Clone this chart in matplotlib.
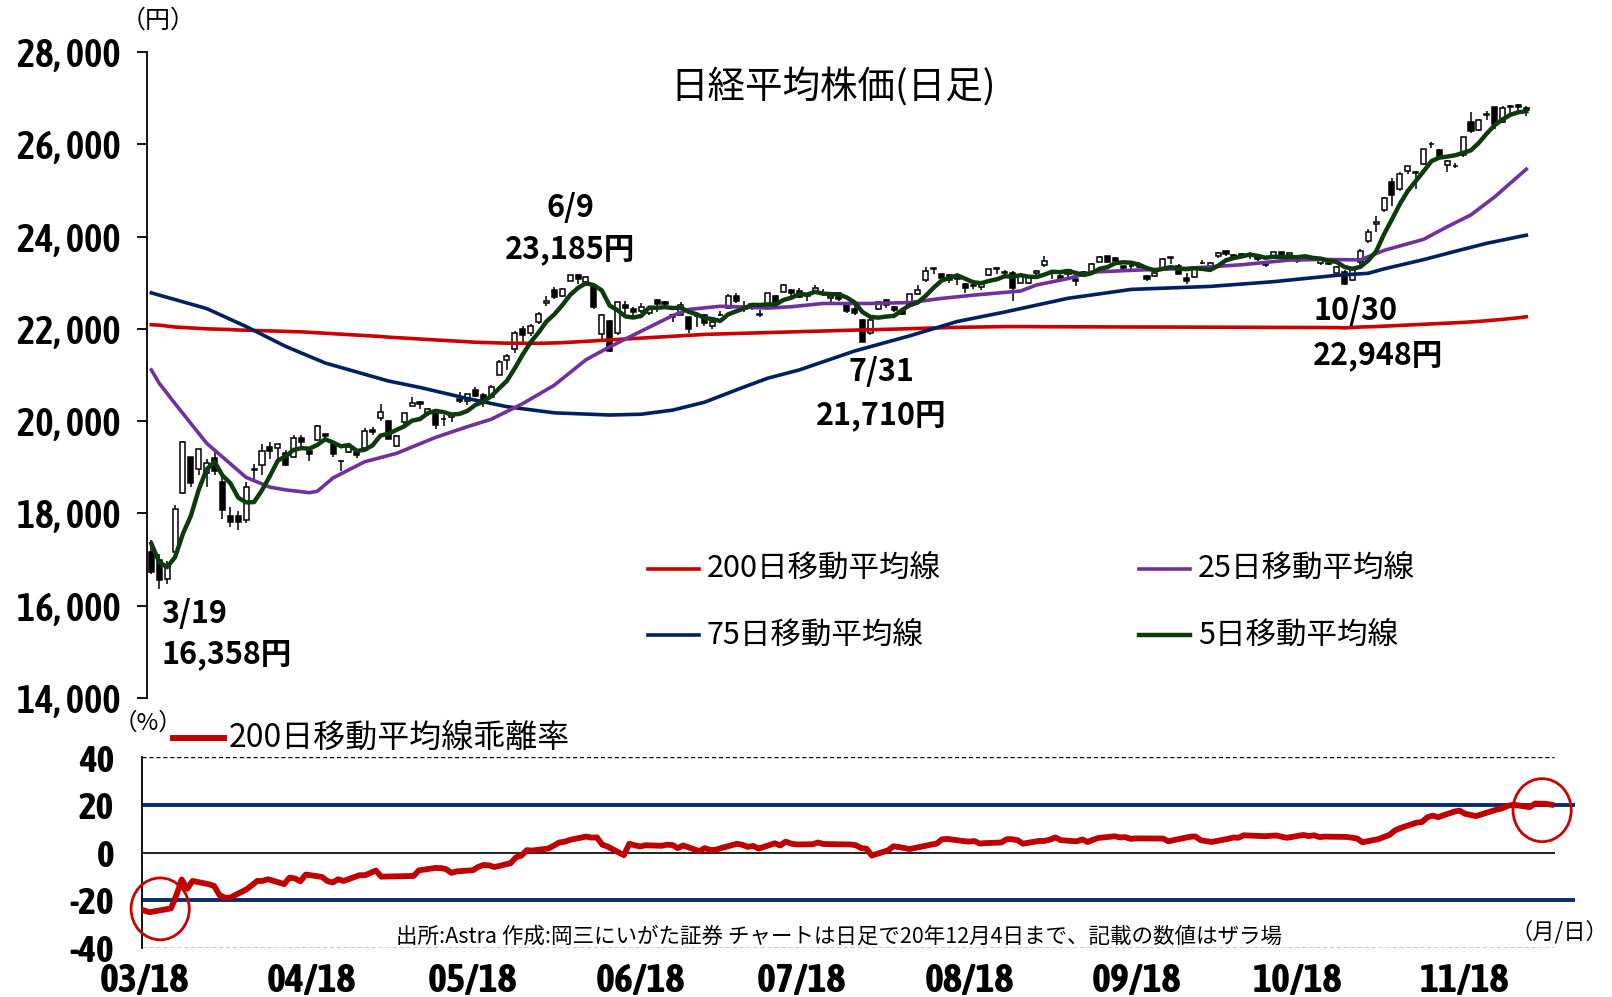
import numpy as np
import pandas as pd
import matplotlib
matplotlib.use('Agg')
import matplotlib.pyplot as plt
import matplotlib.dates as mdates
from matplotlib.patches import Ellipse
from matplotlib.lines import Line2D

JP = ['Noto Sans CJK JP', 'DejaVu Sans']
COND = ['Asap Condensed', 'Archivo Narrow', 'DejaVu Sans']
plt.rcParams['font.family'] = JP

# ---------------- data ----------------
trade_days = [
    '03-18', '03-19', '03-23', '03-24', '03-25', '03-26', '03-27', '03-30', '03-31',
    '04-01', '04-02', '04-03', '04-06', '04-07', '04-08', '04-09', '04-10', '04-13', '04-14', '04-15',
    '04-16', '04-17', '04-20', '04-21', '04-22', '04-23', '04-24', '04-27', '04-28', '04-30',
    '05-01', '05-07', '05-08', '05-11', '05-12', '05-13', '05-14', '05-15', '05-18', '05-19',
    '05-20', '05-21', '05-22', '05-25', '05-26', '05-27', '05-28', '05-29',
    '06-01', '06-02', '06-03', '06-04', '06-05', '06-08', '06-09', '06-10', '06-11', '06-12',
    '06-15', '06-16', '06-17', '06-18', '06-19', '06-22', '06-23', '06-24', '06-25', '06-26', '06-29', '06-30',
    '07-01', '07-02', '07-03', '07-06', '07-07', '07-08', '07-09', '07-10', '07-13', '07-14',
    '07-15', '07-16', '07-17', '07-20', '07-21', '07-22', '07-27', '07-28', '07-29', '07-30', '07-31',
    '08-03', '08-04', '08-05', '08-06', '08-07', '08-11', '08-12', '08-13', '08-14', '08-17',
    '08-18', '08-19', '08-20', '08-21', '08-24', '08-25', '08-26', '08-27', '08-28', '08-31',
    '09-01', '09-02', '09-03', '09-04', '09-07', '09-08', '09-09', '09-10', '09-11', '09-14',
    '09-15', '09-16', '09-17', '09-18', '09-23', '09-24', '09-25', '09-28', '09-29', '09-30',
    '10-02', '10-05', '10-06', '10-07', '10-08', '10-09', '10-12', '10-13', '10-14', '10-15',
    '10-16', '10-19', '10-20', '10-21', '10-22', '10-23', '10-26', '10-27', '10-28', '10-29', '10-30',
    '11-02', '11-04', '11-05', '11-06', '11-09', '11-10', '11-11', '11-12', '11-13', '11-16',
    '11-17', '11-18', '11-19', '11-20', '11-24', '11-25', '11-26', '11-27', '11-30',
    '12-01', '12-02', '12-03', '12-04',
]

opens = [
    17154, 16995, 16570, 17172, 18446, 19217, 18960, 18884, 19200,
    18686, 17934, 17951, 17857, 18953, 19046, 19444, 19410, 19320, 19218, 19640,
    19361, 19599, 19719, 19498, 19140, 19335, 19342, 19419, 19802, 20063,
    20000, 19468, 19973, 20333, 20412, 20174, 20193, 20036, 20085, 20473,
    20443, 20670, 20565, 20515, 21007, 21316, 21558, 21995,
    21910, 22146, 22560, 22843, 22719, 23041, 23163, 23016, 22910, 21888,
    22162, 21915, 22510, 22423, 22388, 22340, 22626, 22581, 22300, 22291, 22253, 22275,
    22294, 22071, 22309, 22456, 22716, 22495, 22520, 22316, 22460, 22713,
    22796, 22838, 22824, 22730, 22822, 22767, 22659, 22777, 22540, 22428, 22201,
    21917, 22422, 22630, 22473, 22381, 22486, 22752, 23050, 23311, 23186,
    23172, 23077, 22973, 22952, 22911, 23158, 23323, 23236, 23218, 22999,
    23000, 23214, 23390, 23208, 23138, 23184, 23071, 23166, 23237, 23448,
    23569, 23530, 23354, 23367, 23378, 23147, 23155, 23326, 23564, 23364,
    23096, 23127, 23428, 23363, 23583, 23690, 23591, 23624, 23599, 23561,
    23392, 23542, 23659, 23593, 23517, 23497, 23509, 23417, 23414, 23212, 23240,
    23057, 23456, 23906, 24266, 24575, 25185, 25038, 25423, 25397, 25563,
    26014, 25866, 25560, 25532, 25757, 26478, 26300, 26651, 26800,
    26479, 26822, 26853, 26777,
]
highs = [
    17426, 17118, 16960, 18180, 19564, 19225, 19389, 19181, 19336,
    18784, 18138, 18059, 18672, 19081, 19500, 19538, 19511, 19369, 19706, 19706,
    19394, 19922, 19731, 19507, 19160, 19507, 19353, 19841, 19873, 20365,
    20029, 19700, 20187, 20534, 20437, 20286, 20226, 20129, 20173, 20637,
    20595, 20741, 20600, 20791, 21328, 21456, 21955, 22060,
    22100, 22355, 22702, 22907, 22890, 23178, 23185, 23148, 22935, 22317,
    22201, 22582, 22612, 22484, 22571, 22454, 22650, 22610, 22308, 22586, 22263, 22345,
    22324, 22184, 22381, 22746, 22773, 22597, 22563, 22402, 22784, 22727,
    22970, 22864, 22878, 22758, 22950, 22853, 22738, 22802, 22550, 22546, 22215,
    22236, 22579, 22638, 22487, 22382, 22760, 22943, 23338, 23315, 23216,
    23183, 23133, 22990, 23002, 23007, 23306, 23338, 23276, 23254, 23183,
    23150, 23275, 23580, 23243, 23200, 23296, 23087, 23245, 23422, 23583,
    23581, 23553, 23359, 23394, 23439, 23178, 23239, 23540, 23564, 23415,
    23211, 23330, 23488, 23448, 23662, 23713, 23622, 23654, 23666, 23568,
    23454, 23674, 23664, 23647, 23530, 23543, 23522, 23515, 23464, 23365, 23285,
    23316, 23723, 24158, 24456, 24858, 25279, 25389, 25520, 25422, 25907,
    26057, 25901, 25649, 25599, 26165, 26706, 26539, 26716, 26800,
    26819, 26853, 26874, 26834,
]
lows = [
    16698, 16358, 16480, 17160, 18420, 18576, 18832, 18578, 18834,
    17871, 17707, 17646, 17802, 18719, 18829, 19186, 19158, 19032, 19194, 19472,
    19145, 19576, 19584, 19215, 18918, 19310, 19207, 19405, 19701, 20000,
    19619, 19448, 19888, 20333, 20270, 20102, 19834, 19905, 19980, 20392,
    20350, 20520, 20300, 20499, 20993, 21109, 21482, 21709,
    21851, 22110, 22506, 22653, 22690, 23027, 22962, 22931, 22427, 21788,
    21503, 21864, 22325, 22280, 22345, 22293, 22372, 22451, 22150, 22290, 21921, 22050,
    22055, 21994, 22278, 22440, 22562, 22376, 22398, 22249, 22457, 22500,
    22789, 22658, 22664, 22595, 22805, 22707, 22526, 22594, 22350, 22300, 21710,
    21861, 22401, 22460, 22374, 22290, 22485, 22733, 23005, 23186, 23036,
    22986, 22953, 22772, 22865, 22848, 23135, 23199, 23136, 22603, 22999,
    22975, 23164, 23336, 23090, 23068, 23131, 22939, 23166, 23184, 23444,
    23424, 23416, 23250, 23279, 23309, 23034, 23128, 23289, 23410, 23184,
    22970, 23104, 23399, 23319, 23537, 23586, 23533, 23585, 23510, 23460,
    23341, 23542, 23536, 23561, 23419, 23466, 23461, 23390, 23374, 23200, 22948,
    23027, 23387, 23855, 24089, 24529, 24657, 24996, 25366, 25040, 25556,
    25918, 25705, 25408, 25496, 25714, 26248, 26293, 26529, 26341,
    26453, 26657, 26690, 26616,
]
closes = [
    16726, 16552, 16887, 18092, 19546, 18665, 19389, 19084, 18917,
    18065, 17819, 17820, 18576, 18950, 19353, 19345, 19498, 19043, 19638, 19550,
    19290, 19897, 19669, 19280, 19137, 19429, 19262, 19783, 19771, 20193,
    19619, 19674, 20179, 20390, 20366, 20267, 19914, 20037, 20133, 20433,
    20595, 20552, 20388, 20741, 21271, 21419, 21916, 21877,
    22062, 22325, 22613, 22695, 22863, 23178, 23091, 23124, 22472, 22305,
    21530, 22582, 22455, 22355, 22478, 22437, 22549, 22534, 22259, 22512, 21995, 22288,
    22121, 22145, 22306, 22714, 22614, 22438, 22529, 22290, 22784, 22587,
    22945, 22770, 22696, 22717, 22884, 22751, 22715, 22657, 22397, 22339, 21710,
    22195, 22573, 22514, 22418, 22329, 22750, 22843, 23249, 23289, 23096,
    23051, 23110, 22880, 22920, 22985, 23296, 23290, 23208, 22882, 23139,
    23138, 23247, 23465, 23205, 23089, 23274, 23032, 23235, 23406, 23559,
    23454, 23475, 23319, 23360, 23346, 23087, 23204, 23511, 23539, 23185,
    23029, 23312, 23433, 23422, 23647, 23619, 23558, 23601, 23626, 23507,
    23410, 23671, 23567, 23639, 23474, 23516, 23494, 23485, 23418, 23331, 22977,
    23295, 23695, 24105, 24325, 24839, 24905, 25349, 25520, 25385, 25906,
    26014, 25728, 25634, 25527, 26165, 26296, 26537, 26644, 26433,
    26787, 26800, 26809, 26751,
]
# closes of 3/12, 3/13, 3/16, 3/17 (needed for the first 5-day averages)
pre_closes = [18559, 17431, 17002, 17011]

# 200-day moving average (daily)
ma200 = [
    22090, 22080, 22060, 22040, 22030, 22020, 22010, 22000, 21995,
    21990, 21985, 21975, 21970, 21965, 21960, 21955, 21950, 21945, 21940, 21935,
    21925, 21915, 21905, 21895, 21885, 21875, 21865, 21855, 21845, 21835,
    21820, 21810, 21800, 21790, 21780, 21770, 21760, 21750, 21740, 21730,
    21720, 21710, 21705, 21700, 21695, 21690, 21688, 21686,
    21686, 21688, 21690, 21695, 21700, 21710, 21720, 21730, 21740, 21750,
    21760, 21770, 21780, 21790, 21800, 21810, 21820, 21830, 21840, 21850, 21860, 21870,
    21880, 21885, 21890, 21895, 21900, 21905, 21910, 21915, 21920, 21925,
    21930, 21935, 21940, 21945, 21950, 21955, 21960, 21965, 21970, 21975, 21978,
    21980, 21985, 21990, 21995, 22000, 22005, 22010, 22015, 22020, 22025,
    22030, 22033, 22036, 22039, 22042, 22045, 22047, 22049, 22050, 22050,
    22048, 22047, 22046, 22046, 22045, 22045, 22044, 22044, 22043, 22043,
    22042, 22042, 22041, 22041, 22040, 22040, 22040, 22039, 22039, 22038,
    22038, 22037, 22037, 22036, 22036, 22035, 22035, 22034, 22034, 22033,
    22033, 22032, 22032, 22031, 22031, 22030, 22030, 22029, 22028, 22027, 22020,
    22030, 22040, 22045, 22050, 22058, 22066, 22074, 22082, 22090, 22098,
    22106, 22114, 22122, 22130, 22140, 22150, 22162, 22176, 22190,
    22206, 22222, 22240, 22262,
]

# 25-day and 75-day moving averages at these dates
ma25_days = ['03-18', '03-19', '03-24', '03-30', '04-06', '04-09', '04-13', '04-16', '04-17', '04-21',
             '04-27', '05-07', '05-14', '05-20', '05-25', '05-29', '06-04', '06-10', '06-15', '06-18',
             '06-25', '06-29', '07-03', '07-13', '07-16', '07-22', '08-03', '08-11', '08-17', '08-21',
             '08-31', '09-02', '09-08', '09-11', '09-23', '10-02', '10-13', '10-21', '10-27', '11-04',
             '11-09', '11-16', '11-19', '11-25', '11-30', '12-04']
ma25_vals = [21110, 20820, 20380, 19520, 18780, 18570, 18510, 18450, 18480, 18770,
             19120, 19300, 19650, 19880, 20040, 20380, 20780, 21330, 21610, 21866,
             22290, 22420, 22490, 22450, 22480, 22550, 22550, 22570, 22660, 22730,
             22820, 22950, 23090, 23230, 23275, 23310, 23390, 23490, 23505, 23495,
             23700, 23940, 24213, 24470, 24860, 25460]
ma75_days = ['03-18', '03-30', '04-06', '04-13', '04-20', '05-01', '05-12', '05-20', '05-27', '06-04',
             '06-15', '06-19', '06-25', '07-01', '07-08', '07-13', '07-17', '07-30', '08-11', '08-19',
             '08-27', '09-08', '09-18', '10-07', '10-19', '10-29', '11-05', '11-09', '11-16', '11-20',
             '11-27', '12-04']
ma75_vals = [22780, 22440, 22050, 21620, 21260, 20870, 20730, 20490, 20313, 20180,
             20133, 20150, 20240, 20410, 20740, 20930, 21110, 21520, 21850, 22160,
             22365, 22662, 22855, 22920, 23022, 23160, 23204, 23300, 23500, 23680,
             23854, 24030]

month_ticks = ['03-18', '04-18', '05-18', '06-18', '07-18', '08-18', '09-18', '10-18', '11-18']
legend_labels = ['200日移動平均線', '75日移動平均線', '25日移動平均線', '5日移動平均線']
line_colors = ['#CC0000', '#002060', '#7030A0', '#0E3B0E']

# ---------------- derived ----------------
n = len(trade_days)
x = np.arange(n)
o, h, l, c = (np.array(a, float) for a in (opens, highs, lows, closes))
ma5 = pd.Series(pre_closes + closes, dtype=float).rolling(5).mean().to_numpy()[len(pre_closes):]
pos = {d: i for i, d in enumerate(trade_days)}
x25 = [pos[d] for d in ma25_days]
x75 = [pos[d] for d in ma75_days]
dev200 = (c / np.array(ma200, float) - 1.0) * 100.0
cal = mdates.date2num(pd.to_datetime(['2020-' + d for d in trade_days]))
tick_cal = mdates.date2num(pd.to_datetime(['2020-' + d for d in month_ticks]))

# ---------------- figure ----------------
W, H = 1612, 997
fig = plt.figure(figsize=(W / 100, H / 100), dpi=100)
def fx(px): return px / W
def fy(py): return 1 - py / H

# upper price panel (x = trading-day index)
ax = fig.add_axes([fx(147), fy(698), fx(1557.5) - fx(147), fy(52) - fy(698)])
ax.set_xlim(-0.55, 177.95)
ax.set_ylim(14000, 28000)
for s in ('top', 'right', 'bottom'):
    ax.spines[s].set_visible(False)
ax.spines['left'].set_linewidth(1.3)
ax.set_xticks([])
yt = list(range(14000, 28001, 2000))
ax.set_yticks(yt)
ax.set_yticklabels([f'{v // 1000}, {v % 1000:03d}' for v in yt])
ax.tick_params(axis='y', direction='out', length=7, width=1.3, pad=12)
for t in ax.get_yticklabels():
    t.set_fontfamily(COND); t.set_fontsize(28); t.set_fontweight('semibold')

up = c >= o
ax.vlines(x, l, h, color='black', lw=1.1, zorder=2)
ax.bar(x, np.abs(c - o), bottom=np.minimum(o, c), width=0.64,
       color=np.where(up, 'white', 'black'), edgecolor='black', linewidth=1.1, zorder=3)
ax.plot(x, ma200, color=line_colors[0], lw=2.6, zorder=4)
ax.plot(x75, ma75_vals, color=line_colors[1], lw=2.6, zorder=4)
ax.plot(x25, ma25_vals, color=line_colors[2], lw=2.6, zorder=4)
ax.plot(x, ma5, color=line_colors[3], lw=3.2, zorder=5)

# annotations
def note(i, val, lines, ha):
    for txt, dx, dy in lines:
        ax.annotate(txt, xy=(i, val), xytext=(dx, dy), textcoords='offset points',
                    ha=ha, va='center', fontsize=22, fontweight='bold', zorder=6)
i_lo = int(np.argmin(l[:20]))
note(i_lo, l[i_lo], [('3/19', 1.5, -17.6), (f'{int(l[i_lo]):,}円', 1.5, -46.5)], 'left')
i_hi = int(np.argmax(h[:80]))
note(i_hi, h[i_hi], [('6/9', -5.8, 47.9), (f'{int(h[i_hi]):,}円', -5.8, 18.3)], 'center')
i_jl = 60 + int(np.argmin(l[60:100]))
note(i_jl, l[i_jl], [('7/31', 13.7, -21.5), (f'{int(l[i_jl]):,}円', 13.7, -52.6)], 'center')
i_ol = 130 + int(np.argmin(l[130:155]))
note(i_ol, l[i_ol], [('10/30', -22.7, -18.3), (f'{int(l[i_ol]):,}円', -22.7, -50.1)], 'left')

# legend (manual)
leg_pos = [(648, 699, 568.5), (648, 699, 635), (1139, 1190, 568.5), (1139, 1190, 635)]
for (x0, x1, yy), lab, col in zip(leg_pos, legend_labels, line_colors):
    fig.add_artist(Line2D([fx(x0), fx(x1)], [fy(yy), fy(yy)], color=col,
                          lw=3.2 if col == line_colors[3] else 2.6, transform=fig.transFigure))
    fig.text(fx(x1 + 8), fy(yy), lab, ha='left', va='center', fontsize=22)

fig.text(fx(833), fy(87), '日経平均株価(日足)', ha='center', va='center', fontsize=27)
fig.text(fx(158), fy(21), '（円）', ha='center', va='center', fontsize=18)

# lower deviation panel (x = calendar date)
d0 = tick_cal[0]
ax2 = fig.add_axes([fx(142), fy(947.8), fx(1575) - fx(142), fy(757.5) - fy(947.8)])
ax2.set_xlim(d0 - 0.37, d0 + 265.4)
ax2.set_ylim(-40, 40)
for s in ('top', 'right', 'bottom'):
    ax2.spines[s].set_visible(False)
ax2.spines['left'].set_linewidth(1.3)
end_frac = (1554 - 142) / (1575 - 142)
for yv in (40, -40):
    ax2.axhline(yv, xmax=end_frac, color='black', lw=1.0, ls=(0, (3, 2)), zorder=1)
ax2.axhline(0, xmax=end_frac, color='#222222', lw=1.4, zorder=1)
for yv in (20, -20):
    ax2.axhline(yv, color='#0B2A6F', lw=2.8, zorder=2)
ax2.plot(cal, dev200, color='#C00000', lw=4.2, zorder=5, solid_joinstyle='round')
ax2.add_patch(Ellipse((cal[1] + 2.0, dev200[1] + 1.4), 10.8, 26, fill=False,
                      edgecolor='#CC0000', lw=2.0, zorder=6, clip_on=False))
ax2.add_patch(Ellipse((cal[-1] - 1.7, dev200[-1] - 2.3), 10.8, 26.5, fill=False,
                      edgecolor='#CC0000', lw=2.0, zorder=6, clip_on=False))
ax2.set_yticks([-40, -20, 0, 20, 40])
ax2.set_yticklabels(['-40', '-20', '0', '20', '40'])
ax2.set_xticks(tick_cal)
ax2.set_xticklabels([d.replace('-', '/') for d in month_ticks])
ax2.tick_params(axis='y', length=0, pad=20)
ax2.tick_params(axis='x', length=0, pad=10)
for t in ax2.get_yticklabels():
    t.set_fontfamily(COND); t.set_fontsize(27); t.set_fontweight('bold')
for t in ax2.get_xticklabels():
    t.set_fontfamily(COND); t.set_fontsize(29); t.set_fontweight('bold')

fig.add_artist(Line2D([fx(173), fx(224)], [fy(738), fy(738)], color='#C00000', lw=4.3,
                      transform=fig.transFigure))
fig.text(fx(229), fy(738), '200日移動平均線乖離率', ha='left', va='center', fontsize=23)
fig.text(fx(148), fy(723), '（%）', ha='center', va='center', fontsize=17)
fig.text(fx(839), fy(937), '出所:Astra 作成:岡三にいがた証券 チャートは日足で20年12月4日まで、記載の数値はザラ場',
         ha='center', va='center', fontsize=15.5)
fig.text(fx(1608), fy(932), '（月/日）', ha='right', va='center', fontsize=16)

fig.savefig('out.png', dpi=100)
